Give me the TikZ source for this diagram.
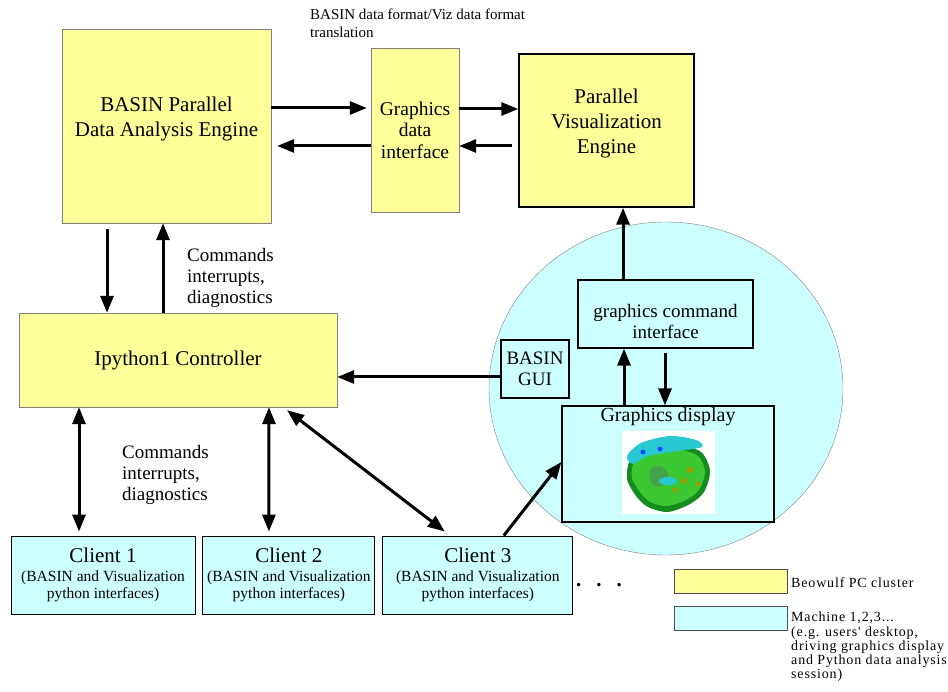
\documentclass[tikz,border=0pt]{standalone}
\usepackage{fontspec}
\setmainfont{Liberation Serif}
\newfontfamily\legendfamily[LetterSpace=6]{Liberation Serif}
\usetikzlibrary{
	arrows.meta,
	chains,
	positioning
}
\definecolor{clusteryellow}{RGB}{255,255,153}
\definecolor{machinecyan}{RGB}{204,255,255}
\definecolor{blobgreen}{RGB}{60,200,50}
\definecolor{blobdark}{RGB}{20,140,30}
\definecolor{blobcyan}{RGB}{40,200,210}
\newcommand\fontBox{\fontsize{21}{25}\selectfont}
\newcommand\fontMid{\fontsize{19.5}{21.5}\selectfont}
\newcommand\fontSub{\fontsize{15.5}{17.5}\selectfont}
\newcommand\fontNote{\fontsize{19}{21}\selectfont}
\newcommand\fontTop{\fontsize{15}{18}\selectfont}
\newcommand\fontLegend{\legendfamily\fontsize{14}{14.3}\selectfont}

\begin{document}
\begin{tikzpicture}[
	x=1pt, y=-1pt,
	node distance = 0mm and 7pt,
	start chain = going right,
	cluster/.style = {
		rectangle, draw=gray, fill=clusteryellow,
		align=center, font=\fontBox
	},
	machine/.style = {
		rectangle, draw, line width=1.2pt, fill=machinecyan,
		align=center
	},
	client/.style = {
		machine, line width=0.9pt, on chain,
		minimum height=78pt, inner sep=1pt, font=\fontSub
	},
	flow/.style = {
		line width=3pt, -{Triangle[length=17pt,width=13pt]}
	},
	twoway/.style = {
		line width=3pt,
		{Triangle[length=17pt,width=13pt]}-{Triangle[length=17pt,width=13pt]}
	},
	note/.style = {align=left, inner sep=1pt, anchor=west}
]
	\useasboundingbox (0,0) rectangle (948,692);
	\draw[gray, fill=machinecyan] (666,388.5) ellipse [x radius=177, y radius=166.5];

	\node [cluster, minimum width=209pt, minimum height=194pt,
		label={[align=center, font=\fontBox, yshift=7.5pt]center:BASIN Parallel\\Data Analysis Engine}]
		(engine) at (166.5,126) {};
	\node [cluster, minimum width=88pt, minimum height=164pt, font=\fontMid]
		(gdi) at (415,130) {Graphics\\data\\interface};
	\node [cluster, draw=black, line width=1.5pt, minimum width=175pt, minimum height=153pt,
		label={[align=center, font=\fontBox, yshift=7pt]center:Parallel\\Visualization\\Engine}]
		(pve) at (606.5,130.5) {};
	\node [cluster, minimum width=318pt, minimum height=94pt]
		(controller) at (178,360) {Ipython1 Controller};

	\node [machine, minimum width=175pt, minimum height=68pt,
		label={[align=center, font=\fontNote, yshift=-8pt]center:graphics command\\interface}]
		(gci) at (665.5,314) {};
	\node [machine, minimum width=68pt, minimum height=58pt, inner sep=0pt, font=\fontNote]
		(gui) at (535,369) {BASIN\\GUI};
	\node [machine, minimum width=212pt, minimum height=116pt]
		(gdisp) at (668,464) {};
	\node [font=\fontsize{20}{24}\selectfont] (gdisptitle) at (668,417) {Graphics display};

	\fill[white] (622,431) rectangle (715,514);
	\fill[blobdark] plot[smooth cycle] coordinates {(630,460) (646,447) (676,444) (701,452) (710,471) (704,492) (690,504) (668,512) (648,507) (636,496) (627,479)};
	\fill[blobgreen] plot[smooth cycle] coordinates {(634,462) (648,451) (676,449) (698,456) (705,472) (699,490) (686,500) (667,506) (650,502) (640,492) (632,478)};
	\fill[blobdark!80] plot[smooth cycle] coordinates {(650,470) (660,466) (668,474) (662,486) (652,484)};
	\fill[blobcyan] plot[smooth cycle] coordinates {(627,456) (641,443) (670,436) (696,440) (702,447) (678,451) (648,456) (633,464)};
	\fill[blobcyan] (668,481) ellipse [x radius=9, y radius=4];
	\fill[blue!70!cyan] (643,452) circle (2.5) (660,449) circle (2.5);
	\fill[olive!80!yellow] (690,470) circle (3) (684,481) circle (3) (675,490) circle (2.5) (698,484) circle (2.5);

	\node [client, minimum width=184pt] (client1) at (103,575)
		{{\fontBox Client 1}\\[1pt](BASIN and Visualization\\python interfaces)};
	\node [client, minimum width=172pt] (client2)
		{{\fontBox Client 2}\\[1pt](BASIN and Visualization\\python interfaces)};
	\node [client, minimum width=190pt] (client3)
		{{\fontBox Client 3}\\[1pt](BASIN and Visualization\\python interfaces)};
	\node [anchor=base west, inner sep=0pt, font=\fontBox\bfseries] (more) at (576,586)
		{.\hspace{15pt}.\hspace{15pt}.};

	\node [note, font=\fontTop] (translation) at (309,23)
		{BASIN data format/Viz data format\\translation};
	\node [note, font=\fontNote] (cmdup) at (186,278)
		{Commands\\interrupts,\\diagnostics};
	\node [note, font=\fontNote] (cmddown) at (121,475)
		{Commands\\interrupts,\\diagnostics};

	\draw[flow, shorten >=4pt] ([yshift=18pt]engine.east) -- ([yshift=22pt]gdi.west);
	\draw[flow, shorten >=6pt] ([yshift=-16pt]gdi.west) -- ([yshift=-20pt]engine.east);
	\draw[flow] ([yshift=21pt]gdi.east) -- ([yshift=21.5pt]pve.west);
	\draw[flow, shorten <=6pt] ([yshift=-15.5pt]pve.west) -- ([yshift=-16pt]gdi.east);

	\draw[flow, shorten <=6pt] ([xshift=-59.5pt]engine.south) -- ([xshift=-71pt]controller.north);
	\draw[flow] ([xshift=-15pt]controller.north) -- ([xshift=-3.5pt]engine.south);

	\draw[flow] ([xshift=-42.5pt]gci.north) -- ([xshift=16.5pt]pve.south);
	\draw[flow] ([xshift=-44pt]gdisp.north) -- ([xshift=-41.5pt]gci.south);
	\draw[flow, shorten <=4pt] ([xshift=-0.5pt]gci.south) -- ([xshift=-3pt]gdisp.north);
	\draw[flow] ([yshift=-8pt]gui.west) -- ([yshift=-17pt]controller.east);

	\draw[twoway] ([xshift=-99pt]controller.south) -- ([xshift=-24pt, yshift=4pt]client1.north);
	\draw[twoway] ([xshift=91pt]controller.south) -- ([xshift=-20pt, yshift=4pt]client2.north);
	\draw[twoway] ([xshift=109pt, yshift=-3pt]controller.south) -- ([xshift=-33pt, yshift=4pt]client3.north);
	\draw[flow] ([xshift=26pt]client3.north) -- ([yshift=2pt]gdisp.west);

	\node [cluster, draw=black!70, minimum width=113pt, minimum height=24pt] (legcluster) at (730.5,581) {};
	\node [machine, draw=black!70, line width=0.6pt, minimum width=113pt, minimum height=24pt] (legmachine) at (730.5,618) {};
	\node [note, font=\fontLegend] (legclustertext) at (790,583) {Beowulf PC cluster};
	\node [note, font=\fontLegend] (legmachinetext) at (790,647)
		{Machine 1,2,3...\\(e.g. users' desktop,\\driving graphics display\\and Python data analysis\\session)};
\end{tikzpicture}
\end{document}
